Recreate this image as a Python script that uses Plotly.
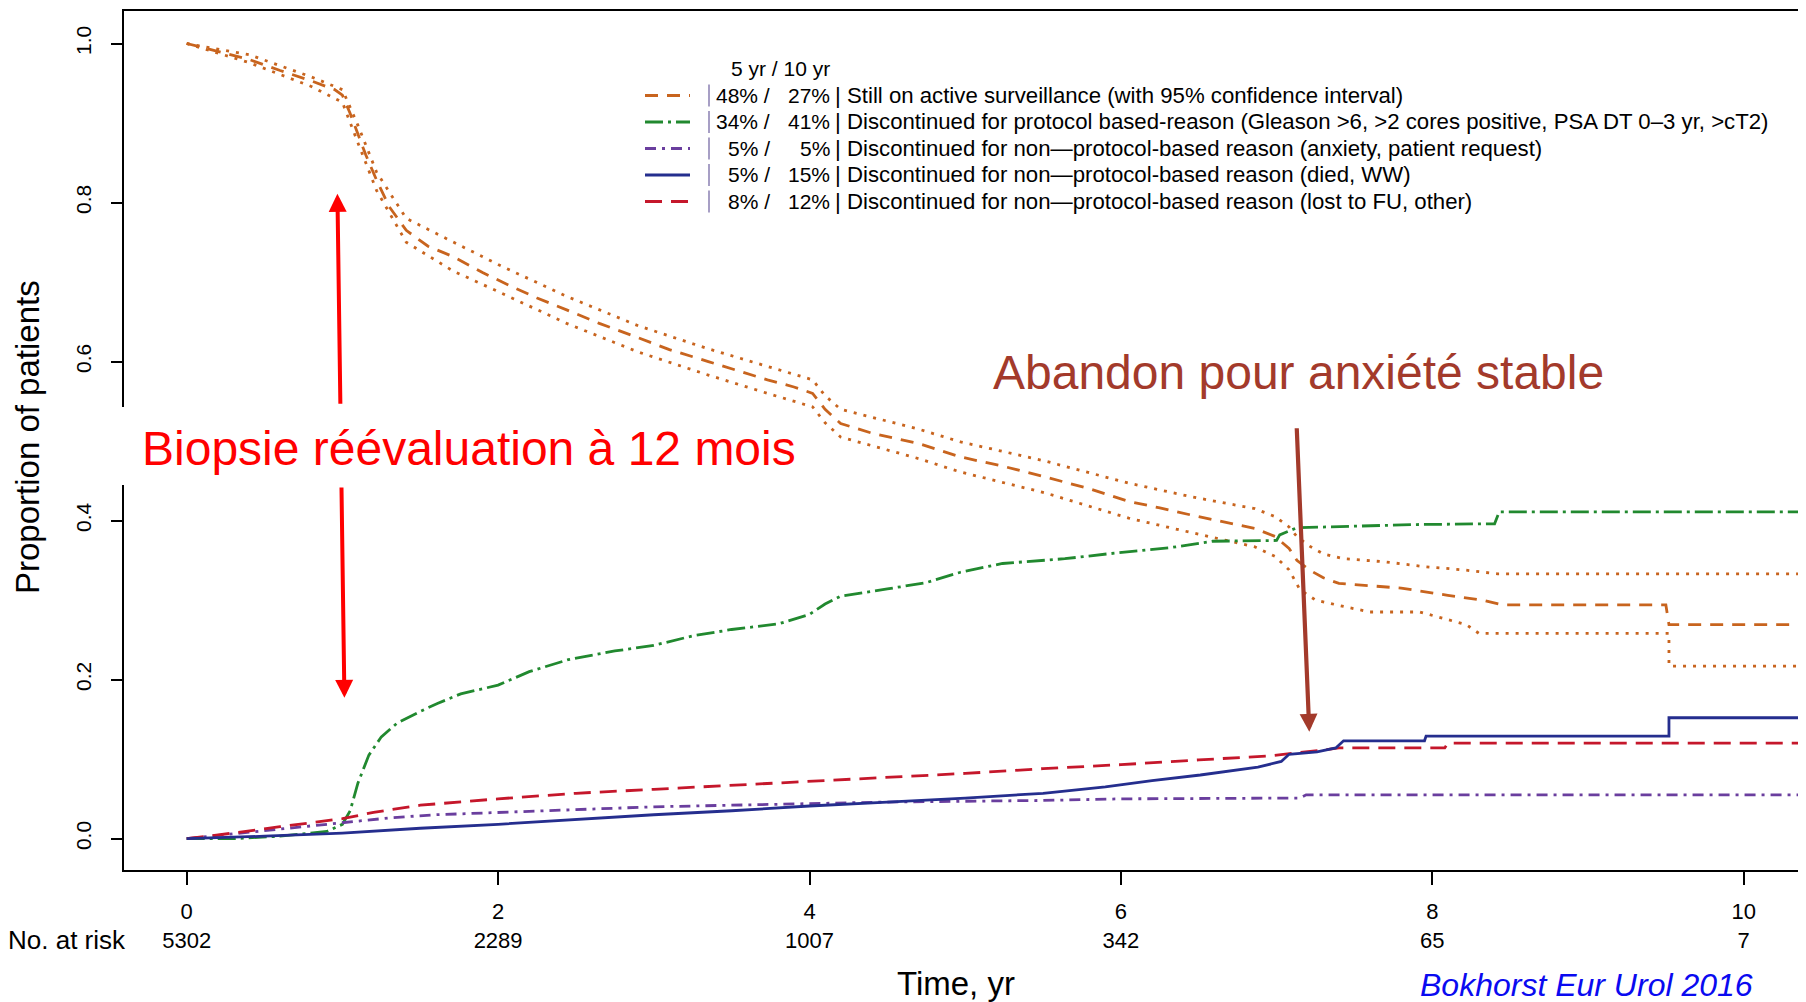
import plotly.graph_objects as go

# ---------------- data ----------------
# Still on active surveillance (estimate and 95% CI)
as_t = [0.00, 0.20, 0.40, 0.60, 0.80, 0.95, 1.00, 1.05, 1.10, 1.15, 1.22, 1.30, 1.41, 1.55, 1.71,
        1.90, 2.09, 2.25, 2.44, 2.65, 2.90, 3.10, 3.35, 3.55, 3.73, 3.90, 4.02, 4.10, 4.20, 4.40,
        4.70, 4.97, 5.25, 5.51, 5.80, 6.05, 6.25, 6.45, 6.70, 6.86, 6.99, 7.08, 7.13, 7.21, 7.30,
        7.40, 7.60, 7.80, 8.10, 8.32, 8.45, 9.50, 9.52, 10.40]
as_s = [1.000, 0.990, 0.980, 0.966, 0.953, 0.942, 0.935, 0.912, 0.885, 0.860, 0.828, 0.795, 0.765,
        0.745, 0.732, 0.712, 0.694, 0.680, 0.665, 0.648, 0.630, 0.615, 0.600, 0.588, 0.577, 0.568,
        0.560, 0.540, 0.522, 0.510, 0.497, 0.480, 0.468, 0.455, 0.440, 0.424, 0.416, 0.407, 0.397,
        0.390, 0.380, 0.365, 0.350, 0.338, 0.328, 0.321, 0.318, 0.315, 0.306, 0.300, 0.294, 0.294,
        0.269, 0.269]

ci_up_t = [0.00, 0.40, 0.80, 1.00, 1.10, 1.22, 1.41, 1.71, 2.00, 2.44, 2.90, 3.35, 3.73, 4.02, 4.10,
           4.20, 4.70, 4.97, 5.51, 6.05, 6.45, 6.86, 6.99, 7.08, 7.13, 7.21, 7.30, 7.43, 7.70, 7.95,
           8.20, 8.42, 10.40]
ci_up_s = [1.000, 0.986, 0.958, 0.942, 0.897, 0.838, 0.780, 0.750, 0.722, 0.682, 0.645, 0.616,
           0.594, 0.577, 0.557, 0.540, 0.515, 0.499, 0.475, 0.447, 0.430, 0.415, 0.405, 0.392,
           0.380, 0.368, 0.358, 0.352, 0.348, 0.342, 0.338, 0.333, 0.333]

ci_lo_t = [0.00, 0.40, 0.80, 1.00, 1.10, 1.22, 1.41, 1.71, 2.00, 2.44, 2.90, 3.35, 3.73, 4.02, 4.10,
           4.20, 4.70, 4.97, 5.51, 6.05, 6.45, 6.86, 6.99, 7.08, 7.15, 7.25, 7.43, 7.60, 7.92, 8.10,
           8.22, 8.30, 9.52, 9.52, 10.40]
ci_lo_s = [1.000, 0.976, 0.946, 0.926, 0.875, 0.815, 0.750, 0.714, 0.688, 0.648, 0.612, 0.583,
           0.560, 0.543, 0.523, 0.505, 0.478, 0.461, 0.435, 0.403, 0.385, 0.367, 0.355, 0.338,
           0.313, 0.300, 0.292, 0.285, 0.285, 0.275, 0.269, 0.258, 0.258, 0.217, 0.217]

# Discontinued for protocol-based reason
prot_t = [0.00, 0.30, 0.60, 0.90, 1.00, 1.05, 1.10, 1.17, 1.25, 1.35, 1.50, 1.61, 1.76, 2.00, 2.20,
          2.45, 2.75, 3.00, 3.25, 3.50, 3.80, 4.00, 4.10, 4.20, 4.50, 4.75, 4.97, 5.24, 5.64, 5.91,
          6.32, 6.59, 7.00, 7.02, 7.13, 7.59, 7.90, 8.40, 8.43, 10.40]
prot_s = [0.000, 0.000, 0.003, 0.009, 0.018, 0.035, 0.070, 0.105, 0.128, 0.145, 0.160, 0.170,
          0.182, 0.193, 0.210, 0.225, 0.236, 0.243, 0.255, 0.263, 0.270, 0.282, 0.295, 0.305,
          0.314, 0.322, 0.335, 0.346, 0.352, 0.358, 0.366, 0.374, 0.375, 0.382, 0.391, 0.393,
          0.395, 0.396, 0.411, 0.411]

# Non-protocol: anxiety, patient request
anx_t = [0.00, 0.50, 1.00, 1.30, 1.60, 2.00, 2.50, 3.00, 3.50, 4.00, 4.50, 5.00, 5.50, 6.00, 7.15,
         7.19, 10.40]
anx_s = [0.000, 0.010, 0.020, 0.026, 0.030, 0.033, 0.037, 0.040, 0.042, 0.044, 0.046, 0.047, 0.048,
         0.050, 0.051, 0.055, 0.055]

# Non-protocol: died, watchful waiting
died_t = [0.00, 0.50, 1.00, 1.50, 2.00, 2.50, 3.00, 3.50, 4.00, 4.50, 5.00, 5.50, 5.90, 6.20, 6.51,
          6.88, 7.03, 7.08, 7.26, 7.38, 7.43, 7.95, 7.96, 9.52, 9.52, 10.40]
died_s = [0.000, 0.003, 0.007, 0.013, 0.018, 0.024, 0.030, 0.035, 0.041, 0.046, 0.051, 0.057, 0.065,
          0.073, 0.080, 0.090, 0.097, 0.106, 0.109, 0.114, 0.123, 0.123, 0.129, 0.129, 0.152, 0.152]

# Non-protocol: lost to follow-up, other
lost_t = [0.00, 0.30, 0.60, 1.00, 1.20, 1.50, 2.00, 2.50, 3.00, 3.50, 4.00, 4.50, 5.00, 5.50, 6.00,
          6.50, 6.95, 7.28, 7.40, 8.08, 8.10, 10.40]
lost_s = [0.000, 0.007, 0.015, 0.025, 0.033, 0.042, 0.050, 0.057, 0.062, 0.067, 0.072, 0.077, 0.082,
          0.088, 0.093, 0.099, 0.104, 0.111, 0.114, 0.114, 0.120, 0.120]

time_ticks = [0, 2, 4, 6, 8, 10]
at_risk = [5302, 2289, 1007, 342, 65, 7]
y_ticks = [0.0, 0.2, 0.4, 0.6, 0.8, 1.0]

legend_header = "5 yr / 10 yr"
legend_5yr = ["48%", "34%", "5%", "5%", "8%"]
legend_10yr = ["27%", "41%", "5%", "15%", "12%"]
legend_desc = [
    "Still on active surveillance (with 95% confidence interval)",
    "Discontinued for protocol based-reason (Gleason >6, >2 cores positive, PSA DT 0\u20133 yr, >cT2)",
    "Discontinued for non\u2014protocol-based reason (anxiety, patient request)",
    "Discontinued for non\u2014protocol-based reason (died, WW)",
    "Discontinued for non\u2014protocol-based reason (lost to FU, other)",
]

# ---------------- styles ----------------
ORANGE = "#C8641E"
GREEN = "#21892F"
PURPLE = "#6A3E9E"
NAVY = "#252E8E"
RED = "#C5172B"
BROWN = "#A33A2B"
FONT = "Liberation Sans, Arial, sans-serif"

styles = [
    dict(color=ORANGE, dash="13px,9px"),
    dict(color=GREEN, dash="18px,5px,3px,5px"),
    dict(color=PURPLE, dash="11px,6px,3px,6px"),
    dict(color=NAVY, dash="solid"),
    dict(color=RED, dash="17px,9px"),
]
LW = 2.8

# page body has an 8px margin: figure is placed at (8, 8) in the window
OFF = 8
WIN_W, WIN_H = 1806, 1002
W, H = WIN_W - OFF, WIN_H - OFF
# plot area in window pixels
P_L, P_R, P_T, P_B = 124, 1802, 11, 870
ML, MR, MT, MB = P_L - OFF, W - (P_R - OFF), P_T - OFF, H - (P_B - OFF)


def px(X):
    return (X - P_L) / (P_R - P_L)


def py(Y):
    return (P_B - Y) / (P_B - P_T)


fig = go.Figure()

dot = dict(color=ORANGE, width=LW, dash="3px,7px")
fig.add_trace(go.Scatter(x=ci_up_t, y=ci_up_s, mode="lines", line=dot, showlegend=False))
fig.add_trace(go.Scatter(x=ci_lo_t, y=ci_lo_s, mode="lines", line=dot, showlegend=False))
series = [(as_t, as_s), (prot_t, prot_s), (anx_t, anx_s), (died_t, died_s), (lost_t, lost_s)]
order = [1, 2, 4, 3, 0]
for i in order:
    t, s = series[i]
    fig.add_trace(go.Scatter(x=t, y=s, mode="lines",
                             line=dict(color=styles[i]["color"], width=LW, dash=styles[i]["dash"]),
                             showlegend=False))

shapes = []
annotations = []

# ---- legend ----
row_y = [95.5, 122.0, 148.5, 175.0, 201.5]
LEG_FS = 22.2
PCT_FS = 21
annotations.append(dict(text=legend_header, xref="paper", yref="paper", x=px(780), y=py(68),
                        xanchor="center", yanchor="middle", showarrow=False,
                        font=dict(family=FONT, size=21, color="black")))
for i, Y in enumerate(row_y):
    shapes.append(dict(type="line", xref="paper", yref="paper", x0=px(645), x1=px(690),
                       y0=py(Y), y1=py(Y), layer="above",
                       line=dict(color=styles[i]["color"], width=3, dash=styles[i]["dash"])))
    shapes.append(dict(type="line", xref="paper", yref="paper", x0=px(709), x1=px(709),
                       y0=py(Y - 11), y1=py(Y + 11), layer="above",
                       line=dict(color="#8A7FB2", width=1.5)))
    annotations.append(dict(text=legend_5yr[i] + " /", xref="paper", yref="paper", x=px(772),
                            y=py(Y), xanchor="right", yanchor="middle", showarrow=False,
                            font=dict(family=FONT, size=PCT_FS, color="black")))
    annotations.append(dict(text=legend_10yr[i], xref="paper", yref="paper", x=px(832),
                            y=py(Y), xanchor="right", yanchor="middle", showarrow=False,
                            font=dict(family=FONT, size=PCT_FS, color="black")))
    annotations.append(dict(text="|", xref="paper", yref="paper", x=px(838),
                            y=py(Y), xanchor="center", yanchor="middle", showarrow=False,
                            font=dict(family=FONT, size=LEG_FS, color="black")))
    annotations.append(dict(text=legend_desc[i], xref="paper", yref="paper", x=px(845),
                            y=py(Y), xanchor="left", yanchor="middle", showarrow=False,
                            font=dict(family=FONT, size=LEG_FS, color="black")))

# ---- white box behind the biopsy label ----
shapes.append(dict(type="rect", xref="paper", yref="paper", x0=px(116), x1=px(796),
                   y0=py(485), y1=py(407), layer="above", fillcolor="white",
                   line=dict(width=0)))

# ---- arrows ----
# red double arrow (broken by the label)
annotations.append(dict(x=0.968, y=0.811, ax=0.987, ay=0.545, xref="x", yref="y", axref="x",
                        ayref="y", text="", showarrow=True, arrowhead=2, arrowsize=0.9,
                        arrowwidth=4, arrowcolor="#FF0000", standoff=0))
annotations.append(dict(x=1.013, y=0.177, ax=0.994, ay=0.4435, xref="x", yref="y", axref="x",
                        ayref="y", text="", showarrow=True, arrowhead=2, arrowsize=0.9,
                        arrowwidth=4, arrowcolor="#FF0000", standoff=0))
# brown arrow
annotations.append(dict(x=7.21, y=0.1345, ax=7.129, ay=0.518, xref="x", yref="y", axref="x",
                        ayref="y", text="", showarrow=True, arrowhead=2, arrowsize=0.85,
                        arrowwidth=4.2, arrowcolor=BROWN, standoff=0))

annotations.append(dict(text="Biopsie réévaluation à 12 mois", xref="paper", yref="paper",
                        x=px(140), y=py(449), xanchor="left", yanchor="middle", showarrow=False,
                        font=dict(family=FONT, size=48, color="#FF0000")))
annotations.append(dict(text="Abandon pour anxiété stable", xref="paper", yref="paper",
                        x=px(991), y=py(373), xanchor="left", yanchor="middle", showarrow=False,
                        font=dict(family=FONT, size=48, color=BROWN)))

# ---- axis titles and notes ----
annotations.append(dict(text="Proportion of patients", xref="paper", yref="paper",
                        x=px(27), y=py(437), xanchor="center", yanchor="middle", textangle=-90,
                        showarrow=False, font=dict(family=FONT, size=33, color="black")))
annotations.append(dict(text="Time, yr", xref="paper", yref="paper",
                        x=px(956), y=py(983), xanchor="center", yanchor="middle",
                        showarrow=False, font=dict(family=FONT, size=33, color="black")))
annotations.append(dict(text="No. at risk", xref="paper", yref="paper",
                        x=px(128), y=py(940), xanchor="right", yanchor="middle",
                        showarrow=False, font=dict(family=FONT, size=26, color="black")))
annotations.append(dict(text="<i>Bokhorst Eur Urol 2016</i>", xref="paper", yref="paper",
                        x=px(1586), y=py(985), xanchor="center", yanchor="middle",
                        showarrow=False, font=dict(family=FONT, size=32, color="#0A0AF0")))

x0_px, x_scale = 186.7, 155.7
y0_px, y_scale = 838.6, 795.1
x_range = [(P_L - x0_px) / x_scale, (P_R - x0_px) / x_scale]
y_range = [(y0_px - P_B) / y_scale, (y0_px - P_T) / y_scale]

fig.update_layout(
    width=W, height=H,
    margin=dict(l=ML, r=MR, t=MT, b=MB, autoexpand=False),
    paper_bgcolor="white", plot_bgcolor="white",
    shapes=shapes, annotations=annotations,
    showlegend=False,
    xaxis=dict(range=x_range, showgrid=False, zeroline=False, showline=True, linecolor="black",
               linewidth=2, mirror=True, ticks="outside", ticklen=13, tickwidth=1.5,
               tickcolor="black", tickvals=time_ticks,
               ticktext=[f"{t}<br>{n}" for t, n in zip(time_ticks, at_risk)],
               tickfont=dict(family=FONT, size=22, color="black"), ticklabelstandoff=8),
    yaxis=dict(range=y_range, showgrid=False, zeroline=False, showline=True, linecolor="black",
               linewidth=2, mirror=True, ticks="outside", ticklen=11, tickwidth=1.5,
               tickcolor="black", tickvals=y_ticks, ticktext=[f"{v:.1f}" for v in y_ticks],
               tickangle=-90, tickfont=dict(family=FONT, size=21, color="black"),
               ticklabelstandoff=12),
)

fig.write_html("out.html")
